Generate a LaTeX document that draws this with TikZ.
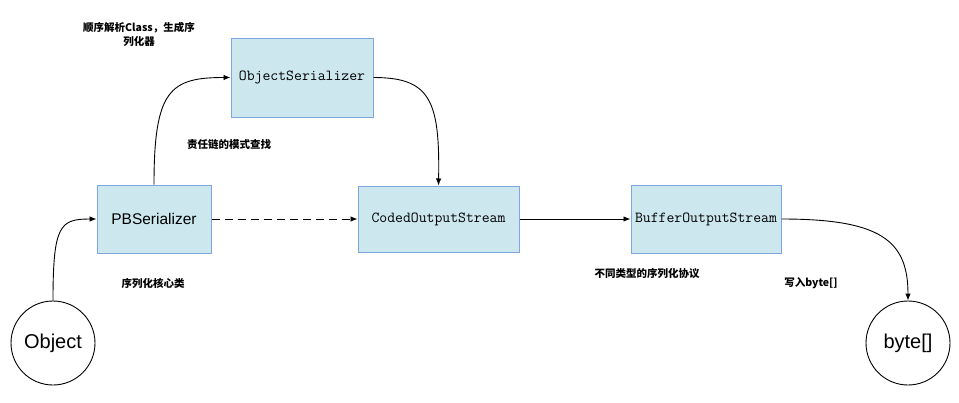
\documentclass[tikz,border=0pt]{standalone}
\usepackage{fontspec}
\setmainfont{Liberation Sans}
\newfontfamily\cjkfont{Noto Sans CJK SC}
\usetikzlibrary{arrows.meta}
\definecolor{boxfill}{HTML}{CCE7EE}
\definecolor{boxline}{HTML}{7EA6E0}
\tikzset{
  classbox/.style={draw=boxline, fill=boxfill, line width=1pt, inner sep=0pt,
    font=\ttfamily\fontsize{15.3}{16}\selectfont},
  endpoint/.style={draw=black, circle, line width=0.9pt, minimum size=84pt, inner sep=0pt,
    font=\fontsize{20}{22}\selectfont},
  note/.style={font=\cjkfont\bfseries\fontsize{10.5}{14}\selectfont, align=center, inner sep=0pt},
  flow/.style={draw=black, line width=0.9pt, -{Latex[length=7pt,width=5.5pt]}},
}
\begin{document}
\begin{tikzpicture}[x=1pt,y=-1pt]
\useasboundingbox[fill=white] (0,0) rectangle (959,402);

% class boxes
\node[classbox, minimum width=142pt, minimum height=79pt] (os) at (302,77.5) {ObjectSerializer};
\node[classbox, minimum width=114pt, minimum height=68pt,
      font=\fontsize{15.5}{16}\selectfont] (pb) at (154,219) {PBSerializer};
\node[classbox, minimum width=161pt, minimum height=66pt] (cos) at (438.5,219) {CodedOutputStream};
\node[classbox, minimum width=150pt, minimum height=68pt] (bos) at (706,219) {BufferOutputStream};

% start and end of the data flow
\node[endpoint] (obj) at (53,343) {Object};
\node[endpoint] (bytes) at (908,343) {byte[]};

% annotations
\node[note] (n1) at (139,34) {顺序解析Class，生成序\\列化器};
\node[note] (n2) at (229,145) {责任链的模式查找};
\node[note] (n3) at (153,283) {序列化核心类};
\node[note] (n4) at (647,274) {不同类型的序列化协议};
\node[note] (n5) at (811,283) {写入byte[]};

% connectors
\draw[flow] (obj.north) .. controls (53,225) and (60,219) .. (pb.west);
\draw[flow] (pb.north) .. controls (154,90) and (170,77.5) .. (os.west);
\draw[flow] (os.east) .. controls (430,77.5) and (440,100) .. (cos.north);
\draw[flow, dashed, dash pattern=on 8pt off 5pt] (pb.east) -- (cos.west);
\draw[flow] (cos.east) -- (bos.west);
\draw[flow] (bos.east) .. controls (880,219) and (908,240) .. (bytes.north);
\end{tikzpicture}
\end{document}
